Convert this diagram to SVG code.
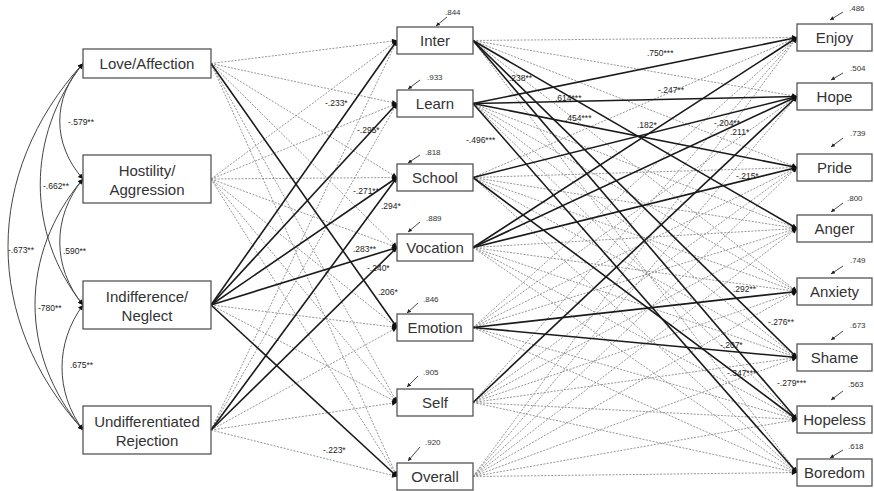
<svg xmlns="http://www.w3.org/2000/svg" width="874" height="491" viewBox="0 0 874 491">
<style>
.bx{fill:#fff;stroke:#555;stroke-width:1.3}
.nt{font-family:"Liberation Sans",Arial,sans-serif;font-size:15px;fill:#333;text-anchor:middle}
.lb{font-family:"Liberation Sans",Arial,sans-serif;font-size:8.5px;fill:#222}
.r2{font-family:"Liberation Sans",Arial,sans-serif;font-size:8px;fill:#333}
.dash path{fill:none;stroke:#8a8a8a;stroke-width:0.9;stroke-dasharray:2 1.4;marker-end:url(#ah)}
.sol path{fill:none;stroke:#1a1a1a;stroke-width:1.6;marker-end:url(#ah)}
.arc path{fill:none;stroke:#444;stroke-width:1;marker-start:url(#ah2);marker-end:url(#ah2)}
.r2a{stroke:#333;stroke-width:0.9;marker-end:url(#sm)}
</style>
<defs>
<marker id="ah" viewBox="0 0 10 10" refX="10" refY="5" markerWidth="6" markerHeight="5" markerUnits="userSpaceOnUse" orient="auto"><path d="M0,0L10,5L0,10z" fill="#111"/></marker>
<marker id="ah2" viewBox="0 0 10 10" refX="10" refY="5" markerWidth="6" markerHeight="5" markerUnits="userSpaceOnUse" orient="auto-start-reverse"><path d="M0,0L10,5L0,10z" fill="#111"/></marker>
<marker id="sm" viewBox="0 0 10 10" refX="10" refY="5" markerWidth="4" markerHeight="4" markerUnits="userSpaceOnUse" orient="auto"><path d="M0,0L10,5L0,10z" fill="#222"/></marker>
</defs>
<rect width="874" height="491" fill="#fff"/>

<g id="connectors">
<g class="dash">
<path d="M211 63.5L397 40.5"/><path d="M211 63.5L397 103.5"/><path d="M211 63.5L397 177.5"/><path d="M211 63.5L397 247.5"/><path d="M211 63.5L397 402.5"/><path d="M211 63.5L397 476.5"/>
<path d="M211 179L397 40.5"/><path d="M211 179L397 103.5"/><path d="M211 179L397 177.5"/><path d="M211 179L397 247.5"/><path d="M211 179L397 327.5"/><path d="M211 179L397 402.5"/><path d="M211 179L397 476.5"/>
<path d="M211 305L397 327.5"/><path d="M211 305L397 402.5"/>
<path d="M211 430L397 40.5"/><path d="M211 430L397 103.5"/><path d="M211 430L397 327.5"/><path d="M211 430L397 402.5"/><path d="M211 430L397 476.5"/>

<path d="M473 40.5L797 37.5"/><path d="M473 40.5L797 96.5"/><path d="M473 40.5L797 167.5"/><path d="M473 40.5L797 291.5"/><path d="M473 40.5L797 472.5"/>
<path d="M473 103.5L797 228.5"/><path d="M473 103.5L797 291.5"/><path d="M473 103.5L797 357.5"/><path d="M473 103.5L797 419.5"/>
<path d="M473 177.5L797 37.5"/><path d="M473 177.5L797 167.5"/><path d="M473 177.5L797 228.5"/><path d="M473 177.5L797 291.5"/><path d="M473 177.5L797 357.5"/><path d="M473 177.5L797 472.5"/>
<path d="M473 247.5L797 228.5"/><path d="M473 247.5L797 291.5"/><path d="M473 247.5L797 357.5"/><path d="M473 247.5L797 419.5"/><path d="M473 247.5L797 472.5"/>
<path d="M473 327.5L797 37.5"/><path d="M473 327.5L797 96.5"/><path d="M473 327.5L797 167.5"/><path d="M473 327.5L797 228.5"/><path d="M473 327.5L797 419.5"/><path d="M473 327.5L797 472.5"/>
<path d="M473 402.5L797 37.5"/><path d="M473 402.5L797 167.5"/><path d="M473 402.5L797 228.5"/><path d="M473 402.5L797 291.5"/><path d="M473 402.5L797 357.5"/><path d="M473 402.5L797 419.5"/><path d="M473 402.5L797 472.5"/>
<path d="M473 476.5L797 37.5"/><path d="M473 476.5L797 96.5"/><path d="M473 476.5L797 167.5"/><path d="M473 476.5L797 228.5"/><path d="M473 476.5L797 291.5"/><path d="M473 476.5L797 357.5"/><path d="M473 476.5L797 419.5"/><path d="M473 476.5L797 472.5"/>
</g>
<g class="sol">
<path d="M211 63.5L397 327.5"/>
<path d="M211 305L397 40.5"/><path d="M211 305L397 103.5"/><path d="M211 305L397 177.5"/><path d="M211 305L397 247.5"/><path d="M211 305L397 476.5"/>
<path d="M211 430L397 177.5"/><path d="M211 430L397 247.5"/>

<path d="M473 40.5L797 228.5"/><path d="M473 40.5L797 357.5"/><path d="M473 40.5L797 419.5"/>
<path d="M473 103.5L797 37.5"/><path d="M473 103.5L797 96.5"/><path d="M473 103.5L797 167.5"/><path d="M473 103.5L797 472.5"/>
<path d="M473 177.5L797 96.5"/><path d="M473 177.5L797 419.5"/>
<path d="M473 247.5L797 37.5"/><path d="M473 247.5L797 96.5"/><path d="M473 247.5L797 167.5"/>
<path d="M473 327.5L797 291.5"/><path d="M473 327.5L797 357.5"/>
<path d="M473 402.5L797 96.5"/>
</g>
<g class="arc">
<path d="M83 63.5C52 98 52 144 83 179"/>
<path d="M83 63.5C26 136 26 233 83 305"/>
<path d="M83 63.5C-17 173 -17 320 83 430"/>
<path d="M83 179C52 217 52 267 83 305"/>
<path d="M83 179C19 254 19 355 83 430"/>
<path d="M83 305C55 343 55 392 83 430"/>
</g>
<g id="path-labels">
<text class="lb" x="68" y="125">-.579**</text>
<text class="lb" x="43" y="189">-.662**</text>
<text class="lb" x="8" y="253">-.673**</text>
<text class="lb" x="63" y="254">.590**</text>
<text class="lb" x="38" y="311">-780**</text>
<text class="lb" x="70" y="368">.675**</text>
<text class="lb" x="325" y="106">-.233*</text>
<text class="lb" x="357" y="133">-.295*</text>
<text class="lb" x="353" y="194">-.271**</text>
<text class="lb" x="381" y="209">.294*</text>
<text class="lb" x="353" y="252">.283**</text>
<text class="lb" x="367" y="271">-.240*</text>
<text class="lb" x="378" y="295">.206*</text>
<text class="lb" x="323" y="453">-.223*</text>
<text class="lb" x="647" y="56">.750***</text>
<text class="lb" x="509" y="81">.238**</text>
<text class="lb" x="658" y="93">-.247**</text>
<text class="lb" x="555" y="101">.614***</text>
<text class="lb" x="565" y="121">.454***</text>
<text class="lb" x="637" y="128">.182*</text>
<text class="lb" x="714" y="126">-.204**</text>
<text class="lb" x="730" y="135">.211*</text>
<text class="lb" x="466" y="143">-.496***</text>
<text class="lb" x="736" y="179">-.215*</text>
<text class="lb" x="733" y="292">.292**</text>
<text class="lb" x="768" y="325">-.276**</text>
<text class="lb" x="720" y="348">-.207*</text>
<text class="lb" x="727" y="376">-.347***</text>
<text class="lb" x="777" y="386">-.279***</text>
</g>
</g>

<g id="love"><rect class="bx" x="83" y="49" width="128" height="29"/><text class="nt" x="147" y="69">Love/Affection</text></g>
<g id="hostility"><rect class="bx" x="83" y="155" width="128" height="48"/><text class="nt" x="147" y="176">Hostility/</text><text class="nt" x="147" y="195">Aggression</text></g>
<g id="indifference"><rect class="bx" x="83" y="281" width="128" height="48"/><text class="nt" x="147" y="302">Indifference/</text><text class="nt" x="147" y="321">Neglect</text></g>
<g id="undifferentiated"><rect class="bx" x="83" y="406" width="128" height="48"/><text class="nt" x="147" y="427">Undifferentiated</text><text class="nt" x="147" y="446">Rejection</text></g>

<g id="inter"><rect class="bx" x="397" y="27" width="76" height="27"/><text class="nt" x="435" y="46">Inter</text><line class="r2a" x1="447" y1="17" x2="436" y2="26"/><text class="r2" x="445" y="15">.844</text></g>
<g id="learn"><rect class="bx" x="397" y="90" width="76" height="27"/><text class="nt" x="435" y="109">Learn</text><line class="r2a" x1="420" y1="80" x2="408" y2="89"/><text class="r2" x="427" y="80">.933</text></g>
<g id="school"><rect class="bx" x="397" y="164" width="76" height="27"/><text class="nt" x="435" y="183">School</text><line class="r2a" x1="420" y1="155" x2="408" y2="163"/><text class="r2" x="425" y="155">.818</text></g>
<g id="vocation"><rect class="bx" x="397" y="234" width="76" height="27"/><text class="nt" x="435" y="253">Vocation</text><line class="r2a" x1="420" y1="222" x2="408" y2="232"/><text class="r2" x="426" y="221">.889</text></g>
<g id="emotion"><rect class="bx" x="397" y="314" width="76" height="27"/><text class="nt" x="435" y="333">Emotion</text><line class="r2a" x1="418" y1="303" x2="407" y2="313"/><text class="r2" x="423" y="302">.846</text></g>
<g id="self"><rect class="bx" x="397" y="389" width="76" height="27"/><text class="nt" x="435" y="408">Self</text><line class="r2a" x1="418" y1="376" x2="407" y2="387"/><text class="r2" x="423" y="375">.905</text></g>
<g id="overall"><rect class="bx" x="397" y="463" width="76" height="27"/><text class="nt" x="435" y="482">Overall</text><line class="r2a" x1="420" y1="447" x2="408" y2="461"/><text class="r2" x="425" y="445">.920</text></g>

<g id="enjoy"><rect class="bx" x="797" y="24" width="75" height="27"/><text class="nt" x="834.5" y="43">Enjoy</text><line class="r2a" x1="843" y1="12" x2="830" y2="20"/><text class="r2" x="849" y="11">.486</text></g>
<g id="hope"><rect class="bx" x="797" y="83" width="75" height="27"/><text class="nt" x="834.5" y="102">Hope</text><line class="r2a" x1="843" y1="73" x2="831" y2="80"/><text class="r2" x="850" y="71">.504</text></g>
<g id="pride"><rect class="bx" x="797" y="154" width="75" height="27"/><text class="nt" x="834.5" y="173">Pride</text><line class="r2a" x1="843" y1="138" x2="831" y2="147"/><text class="r2" x="850" y="136">.739</text></g>
<g id="anger"><rect class="bx" x="797" y="215" width="75" height="27"/><text class="nt" x="834.5" y="234">Anger</text><line class="r2a" x1="843" y1="203" x2="831" y2="212"/><text class="r2" x="847" y="201">.800</text></g>
<g id="anxiety"><rect class="bx" x="797" y="278" width="75" height="27"/><text class="nt" x="834.5" y="297">Anxiety</text><line class="r2a" x1="843" y1="266" x2="831" y2="274"/><text class="r2" x="850" y="263">.749</text></g>
<g id="shame"><rect class="bx" x="797" y="344" width="75" height="27"/><text class="nt" x="834.5" y="363">Shame</text><line class="r2a" x1="843" y1="331" x2="831" y2="340"/><text class="r2" x="850" y="328">.673</text></g>
<g id="hopeless"><rect class="bx" x="797" y="406" width="75" height="27"/><text class="nt" x="834.5" y="425">Hopeless</text><line class="r2a" x1="843" y1="391" x2="831" y2="400"/><text class="r2" x="848" y="387">.563</text></g>
<g id="boredom"><rect class="bx" x="797" y="459" width="75" height="27"/><text class="nt" x="834.5" y="478">Boredom</text><line class="r2a" x1="843" y1="450" x2="830" y2="458"/><text class="r2" x="848" y="449">.618</text></g>
</svg>
